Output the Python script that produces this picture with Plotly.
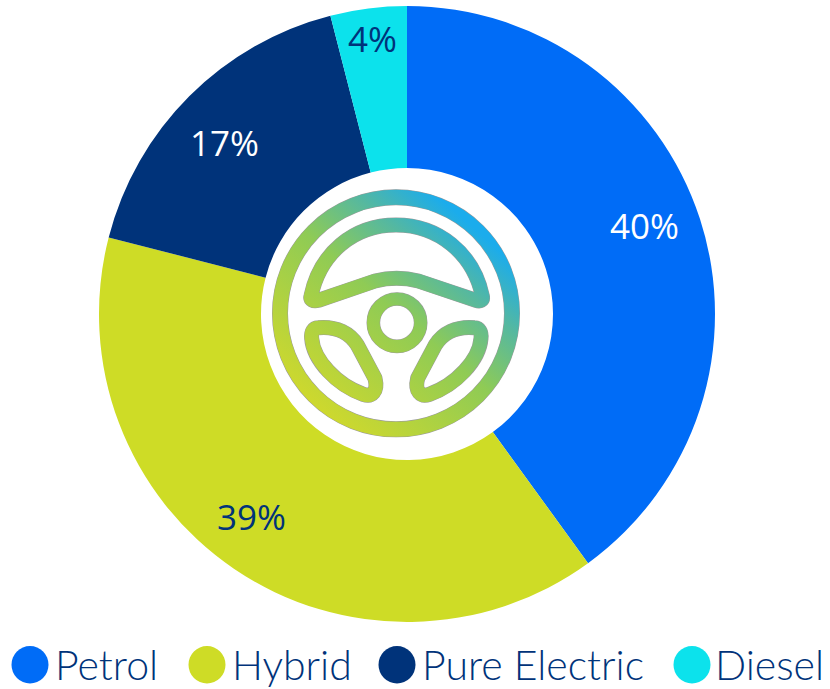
import base64
import plotly.graph_objects as go

W, H = 830, 689

categories = ["Petrol", "Hybrid", "Pure Electric", "Diesel"]
values = [40, 39, 17, 4]
slice_colors = ["#006CF7", "#CEDC26", "#00337A", "#0CE2EC"]
label_colors = ["#FFFFFF", "#00337A", "#FFFFFF", "#00337A"]
label_centers_px = [(644, 225.5), (251, 516), (224.5, 143), (372, 38.5)]
legend_marker_x_px = [30, 207, 397, 692]
legend_text_x_px = [53, 230, 420, 713]

LABEL_FONT = "Open Sans"
LEGEND_FONT = "Lato"

# centre decoration: steering wheel with a diagonal gradient stroke
paths = [
    ("M 183 378 C 210 250 310 165 438 165 C 565 165 670 250 697 378 "
     "C 700 392 690 395 678 391 L 505 333 C 460 322 420 322 375 333 "
     "L 205 391 C 190 395 180 390 183 378 Z", 42),
    ("M 205 473 C 260 468 300 490 322 525 L 375 625 C 385 665 365 682 340 673 "
     "C 260 645 190 570 185 505 C 183 485 190 474 205 473 Z", 42),
    ("M 673 473 C 618 468 578 490 556 525 L 503 625 C 493 665 513 682 538 673 "
     "C 618 645 688 570 693 505 C 695 485 688 474 673 473 Z", 42),
]
def icon_svg():
    g = "url(#g)"
    back, front = "", ""
    for d, w in paths:
        back += f'<path d="{d}" fill="none" stroke="#9a9a9a" stroke-width="{w+3}" stroke-linejoin="round"/>'
        front += f'<path d="{d}" fill="none" stroke="{g}" stroke-width="{w}" stroke-linejoin="round"/>'
    for cx, cy, r, w in [(438, 430, 348, 45), (441, 458, 71, 38)]:
        back += f'<circle cx="{cx}" cy="{cy}" r="{r}" fill="none" stroke="#9a9a9a" stroke-width="{w+3}"/>'
        front += f'<circle cx="{cx}" cy="{cy}" r="{r}" fill="none" stroke="{g}" stroke-width="{w}"/>'
    return ('<svg xmlns="http://www.w3.org/2000/svg" width="900" height="870" viewBox="0 0 900 870">'
            '<defs><linearGradient id="g" gradientUnits="userSpaceOnUse" x1="230" y1="760" x2="740" y2="170">'
            '<stop offset="0" stop-color="#D0D92C"/><stop offset="0.5" stop-color="#8FCB55"/>'
            '<stop offset="0.74" stop-color="#55B8A0"/><stop offset="0.94" stop-color="#1BACEC"/>'
            f'</linearGradient></defs>{back}{front}</svg>')

uri = "data:image/svg+xml;base64," + base64.b64encode(icon_svg().encode()).decode()

px = lambda x: x / W
py = lambda y: 1 - y / H

fig = go.Figure(go.Pie(
    labels=categories, values=values, sort=False, direction="clockwise", rotation=0,
    hole=146 / 308, marker=dict(colors=slice_colors, line=dict(width=0)),
    textinfo="none", showlegend=False,
    domain=dict(x=[px(99), px(715)], y=[py(622), py(6)]),
))

annotations = []
for v, c, (x, y) in zip(values, label_colors, label_centers_px):
    annotations.append(dict(text=f"{v}%", x=px(x), y=py(y), xref="paper", yref="paper",
                            showarrow=False, xanchor="center", yanchor="middle",
                            font=dict(family=LABEL_FONT, size=35, color=c)))
shapes = []
for name, col, mx, tx in zip(categories, slice_colors, legend_marker_x_px, legend_text_x_px):
    shapes.append(dict(type="circle", xref="paper", yref="paper", line_width=0, fillcolor=col,
                       x0=px(mx - 18.5), x1=px(mx + 18.5), y0=py(683.5), y1=py(646)))
    annotations.append(dict(text=name, x=px(tx), y=py(664), xref="paper", yref="paper",
                            showarrow=False, xanchor="left", yanchor="middle",
                            font=dict(family=LEGEND_FONT, size=41, color="#00337A", weight=300)))

fig.update_layout(
    width=W, height=H, margin=dict(l=0, r=0, t=0, b=0), autosize=False,
    paper_bgcolor="white", plot_bgcolor="white",
    annotations=annotations, shapes=shapes,
    images=[dict(source=uri, xref="paper", yref="paper", x=px(250), y=py(170),
                 sizex=300 / W, sizey=290 / H, sizing="stretch", layer="above",
                 xanchor="left", yanchor="top")],
)
fig.write_html("out.html", config=dict(displayModeBar=False),
               post_script="document.body.style.margin='0';")
